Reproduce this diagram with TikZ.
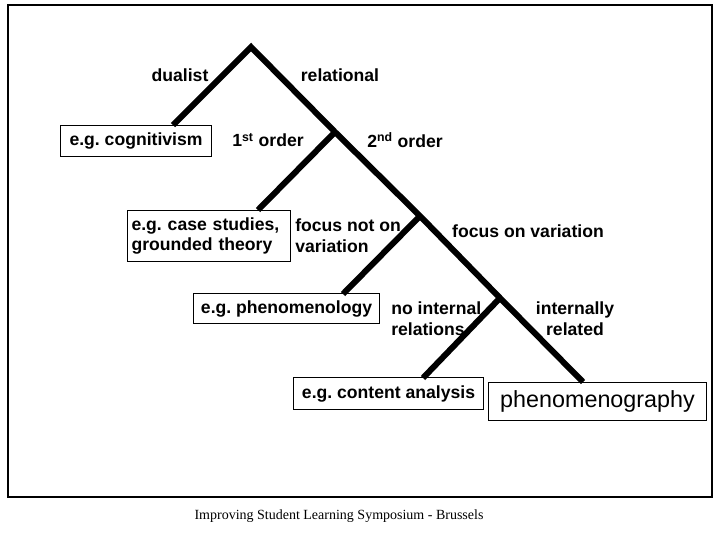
\documentclass[tikz,border=0pt]{standalone}
\usepackage{fontspec}
\setmainfont{Liberation Sans}
\newfontfamily\footfont{Liberation Serif}
\frenchspacing
\begin{document}
\begin{tikzpicture}[x=0.75pt,y=-0.75pt,
  br/.style={line width=4.5pt},
  lbl/.style={font=\fontsize{13.2}{15.5}\selectfont\bfseries,inner sep=0pt},
  box/.style={draw,line width=0.8pt,font=\fontsize{13.2}{15.5}\selectfont\bfseries,align=left,inner sep=0pt,anchor=north west}]
\useasboundingbox (0,0) rectangle (720,540);
\draw[line width=0.8pt] (8,5) rectangle (712,497);
\node[box,minimum width=151*0.75pt,minimum height=31*0.75pt] (cog) at (60,125) {e.g. cognitivism};
\node[box,minimum width=163*0.75pt,minimum height=51*0.75pt,text width=155*0.75pt] (case) at (127,210) {e.g. case studies,\\grounded theory};
\node[box,minimum width=186*0.75pt,minimum height=30*0.75pt] (phen) at (193,293) {e.g. phenomenology};
\node[box,minimum width=190*0.75pt,minimum height=32*0.75pt] (cont) at (293,377) {e.g. content analysis};
\node[box,minimum width=218*0.75pt,minimum height=38*0.75pt,font=\fontsize{17.5}{20}\selectfont] (graph) at (488,382) {phenomenography};
\coordinate (a) at (251,47);
\coordinate (n1) at (335,132);
\coordinate (n2) at (420,216);
\coordinate (n3) at (500,298);
\coordinate (ca) at (173,125);
\coordinate (cb) at (258,210);
\coordinate (cc) at (343,294);
\coordinate (cd) at (423,378);
\coordinate (ce) at (583,382);
\draw[br] (ca) -- (a) -- (n1) -- (n2) -- (n3) -- (ce);
\draw[br] (n1) -- (cb);
\draw[br] (n2) -- (cc);
\draw[br] (n3) -- (cd);
\node[lbl] (l1) at (180,75) {dualist};
\node[lbl] (l2) at (340,75) {relational};
\node[lbl] (l3) at (268,140) {1\textsuperscript{st} order};
\node[lbl] (l4) at (405,140) {2\textsuperscript{nd} order};
\node[lbl,align=left,anchor=west] (l5) at (295,236) {focus not on\\variation};
\node[lbl] (l6) at (528,231) {focus on variation};
\node[lbl,align=left,anchor=west] (l7) at (391,319) {no internal\\relations};
\node[lbl,align=center] (l8) at (575,319) {internally\\related};
\node[font=\footfont\fontsize{10.5}{12}\selectfont,inner sep=0pt] (ft) at (339,516) {Improving Student Learning Symposium - Brussels};
\end{tikzpicture}
\end{document}
